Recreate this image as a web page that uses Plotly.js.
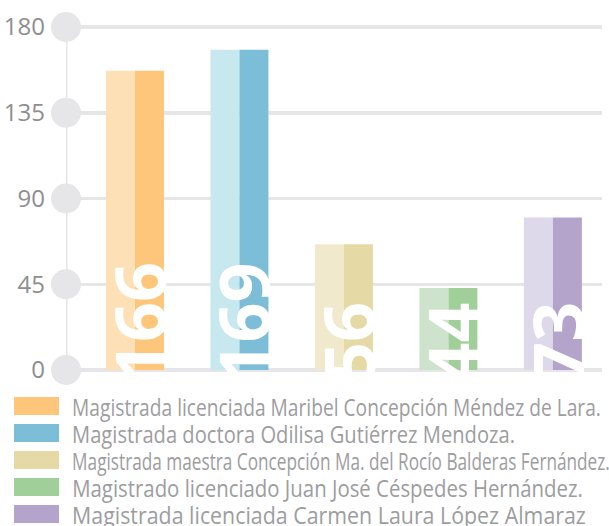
<!DOCTYPE html>
<html>
<head>
<meta charset="utf-8">
<script src="https://cdn.plot.ly/plotly-3.0.1.min.js"></script>
<style>html,body{margin:0;padding:0;background:#fff;}</style>
</head>
<body>
<div id="chart" style="width:609px;height:526px;"></div>
<script>
// ---- data ----
var names = [
  "Magistrada licenciada Maribel Concepción Méndez de Lara.",
  "Magistrada doctora Odilisa Gutiérrez Mendoza.",
  "Magistrada maestra Concepción Ma. del Rocío Balderas Fernández.",
  "Magistrado licenciado Juan José Céspedes Hernández.",
  "Magistrada licenciada Carmen Laura López Almaraz"
];
var values = [157, 168, 66, 43, 80];
var valueLabels = ["166", "169", "56", "44", "73"];
var tickVals = [0, 45, 90, 135, 180];
var tickText = ["0", "45", "90", "135", "180"];
var lightColors = ["#fde0b5", "#c8e8ef", "#f0e9cc", "#cde3cb", "#ddd8ea"];
var darkColors  = ["#fec67a", "#7cbdd7", "#e5d9a5", "#a0cf9a", "#b4a4cb"];

// ---- layout geometry (pixels) ----
var W = 609, H = 526;
var plotL = 66, plotR = 602, plotT = 10, plotB = 380;
var legendTextWidths = [529, 443, 538, 511, 514]; // rendered widths of the condensed legend lines
function px2paperX(p){ return (p - plotL) / (plotR - plotL); }
function px2paperY(p){ return (plotB - p) / (plotB - plotT); }

var gridCol = "#e6e6e8";

var traces = [
  {type: "bar", x: names, y: values, marker: {color: lightColors}, hoverinfo: "skip", showlegend: false},
  {type: "bar", x: names, y: values, marker: {color: darkColors}, hoverinfo: "skip", showlegend: false},
  {type: "scatter", mode: "lines+markers", xaxis: "x2", yaxis: "y",
   x: tickVals.map(function(){ return 0; }), y: tickVals,
   line: {color: gridCol, width: 3}, marker: {color: gridCol, size: 30},
   cliponaxis: false, hoverinfo: "skip", showlegend: false}
];

var annotations = [];
var shapes = [];
var legendIdx = [];
for (var i = 0; i < names.length; i++) {
  annotations.push({
    x: names[i], y: 0, xref: "x", yref: "y",
    text: valueLabels[i], textangle: -90, showarrow: false,
    xanchor: "center", yanchor: "bottom", xshift: 4, yshift: -14,
    font: {family: "Open Sans, sans-serif", size: 70, color: "#ffffff", weight: "bold"}
  });
  var rowTop = 397 + 27 * i;
  shapes.push({
    type: "rect", xref: "paper", yref: "paper",
    x0: px2paperX(14), x1: px2paperX(59),
    y0: px2paperY(rowTop + 18), y1: px2paperY(rowTop),
    fillcolor: darkColors[i], line: {width: 0}
  });
  legendIdx.push(annotations.length);
  annotations.push({
    x: px2paperX(70), y: px2paperY(rowTop + 9), xref: "paper", yref: "paper",
    xanchor: "left", yanchor: "middle", showarrow: false,
    text: names[i],
    font: {family: "Open Sans, sans-serif", size: 24, color: "#9d9da0"}
  });
}

var pxPerUnit = (370 - 27) / 180;
var layout = {
  width: W, height: H,
  margin: {l: plotL, r: W - plotR, t: plotT, b: H - plotB, pad: 0},
  paper_bgcolor: "#ffffff", plot_bgcolor: "#ffffff",
  barmode: "group", bargap: 0.445, bargroupgap: 0,
  showlegend: false,
  xaxis: {type: "category", range: [-0.66, 4.47], showticklabels: false,
          showgrid: false, zeroline: false, showline: false, fixedrange: true},
  xaxis2: {overlaying: "x", range: [0, 1], visible: false, fixedrange: true},
  yaxis: {range: [-(plotB - 370) / pxPerUnit, (370 - plotT) / pxPerUnit],
          tickvals: tickVals, ticktext: tickText, ticks: "",
          showgrid: true, gridcolor: gridCol, gridwidth: 3.5,
          zeroline: false, showline: false, ticklabelstandoff: 20,
          tickfont: {family: "Open Sans, sans-serif", size: 24, color: "#8e8e90"},
          fixedrange: true},
  annotations: annotations,
  shapes: shapes
};

Plotly.newPlot("chart", traces, layout, {displayModeBar: false, staticPlot: true}).then(function(gd){
  // compress legend texts horizontally to mimic the condensed face of the original
  legendIdx.forEach(function(k, j){
    var t = gd.querySelector('.annotation[data-index="' + k + '"] text');
    if (!t) return;
    var bb = t.getBBox();
    var s = legendTextWidths[j] / bb.width;
    t.setAttribute("transform", "translate(" + bb.x + ",0) scale(" + s + ",1) translate(" + (-bb.x) + ",0)");
  });
});
</script>
</body>
</html>
